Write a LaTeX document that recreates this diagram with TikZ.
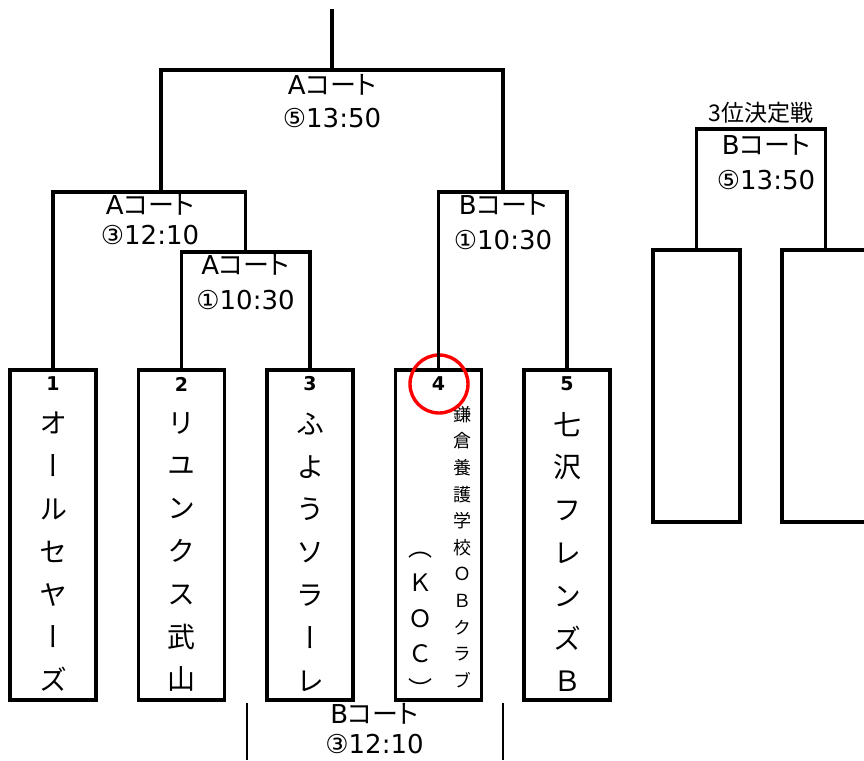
\documentclass[tikz,border=0pt]{standalone}
\usepackage{fontspec}
\setmainfont{DejaVu Sans}
\newfontfamily\cjk{Noto Sans CJK JP}
\newfontfamily\cjkp[RawFeature=+palt]{Noto Sans CJK JP}
\newfontfamily\cjkv[RawFeature=+vert]{Noto Sans CJK JP}
\usetikzlibrary{positioning}

\begin{document}
\begin{tikzpicture}[x=1pt,y=-1pt,line width=3.2pt,node distance=42.5pt,
	team/.style={draw,outer sep=0pt,minimum width=86pt,minimum height=330pt,inner sep=0pt},
	spare/.style={draw,outer sep=0pt,minimum width=87pt,minimum height=272pt,inner sep=0pt},
	court/.style={align=center,inner sep=0pt,font=\fontsize{26}{35}\selectfont},
	seed/.style={inner sep=0pt,font=\fontsize{19}{19}\selectfont\bfseries},
	teamname/.style={align=center,inner sep=0pt,font=\cjkv\fontsize{28}{42.8}\selectfont}]
	\useasboundingbox (0,0) rectangle (864,760);
	% team boxes
	\node[team] (t1) at (53,535) {};
	\node[team] (t2) [right=of t1] {};
	\node[team] (t3) [right=of t2] {};
	\node[team] (t4) [right=of t3] {};
	\node[team] (t5) [right=of t4] {};
	\node[seed] (n1) at (53,384) {1};
	\node[seed] (n2) at (181.5,384) {2};
	\node[seed] (n3) at (310,384) {3};
	\node[seed] (n4) at (438.5,384) {4};
	\node[seed] (n5) at (567,384) {5};
	\node[teamname] (c1) at (53,552) {オ\\ー\\ル\\セ\\ヤ\\ー\\ズ};
	\node[teamname] (c2) at (181.5,552) {リ\\ユ\\ン\\ク\\ス\\武\\山};
	\node[teamname] (c3) at (310,552) {ふ\\よ\\う\\ソ\\ラ\\ー\\レ};
	\node[teamname] (c5) at (567,552) {七\\沢\\フ\\レ\\ン\\ズ\\Ｂ};
	\node[teamname,font=\cjkv\fontsize{18}{26.6}\selectfont] (c4) at (462,547)
		{鎌\\倉\\養\\護\\学\\校\\Ｏ\\Ｂ\\ク\\ラ\\ブ};
	\node[teamname,font=\cjkv\fontsize{24}{35.5}\selectfont] (c4k) at (420,625)
		{（\\Ｋ\\Ｏ\\Ｃ\\）};
	\node[draw=red,circle,line width=3.4pt,minimum size=58pt] (ring) at (439,384) {};
	% brackets
	\coordinate (m1) at (245.5,252);
	\coordinate (m2) at (503,192);
	\coordinate (m3) at (150,192);
	\coordinate (w3) at (161,192);
	\coordinate (m5) at (332,70);
	\coordinate (top) at (332,9);
	\draw (t2.north) |- (m1) -| (t3.north);
	\draw (t1.north) |- (m3) -| (m1);
	\draw (t4.north) |- (m2) -| (t5.north);
	\draw (m2) |- (m5) -| (w3);
	\draw (m5) -- (top);
	\node[court,font=\fontsize{26}{33}\selectfont] (l5) at (332,101.5) {A{\cjkp コート}\\⑤13:50};
	\node[court,font=\fontsize{26}{30}\selectfont] (l3) at (150,220) {A{\cjkp コート}\\③12:10};
	\node[court] (l1) at (245.5,282.5) {A{\cjkp コート}\\①10:30};
	\node[court] (l2) at (503,222.5) {B{\cjkp コート}\\①10:30};
	% 3rd place
	\node[spare] (t6) at (696.5,386) {};
	\node[spare] (t7) [right=42pt of t6] {};
	\coordinate (m6) at (761,129);
	\draw (t6.north) |- (m6) -| (t7.north);
	\node[font=\cjk\fontsize{23}{23}\selectfont,inner sep=0pt] (l7) at (761,113) {3位決定戦};
	\node[court] (l6) at (766,162.5) {B{\cjkp コート}\\⑤13:50};
	% next round below
	\coordinate (b1) at (247,703);
	\coordinate (b2) at (247,760);
	\coordinate (b3) at (503,703);
	\coordinate (b4) at (503,760);
	\draw[line width=2.4pt] (b1) -- (b2) (b3) -- (b4);
	\node[court,font=\fontsize{26}{30}\selectfont] (l8) at (374.5,729) {B{\cjkp コート}\\③12:10};
\end{tikzpicture}
\end{document}
